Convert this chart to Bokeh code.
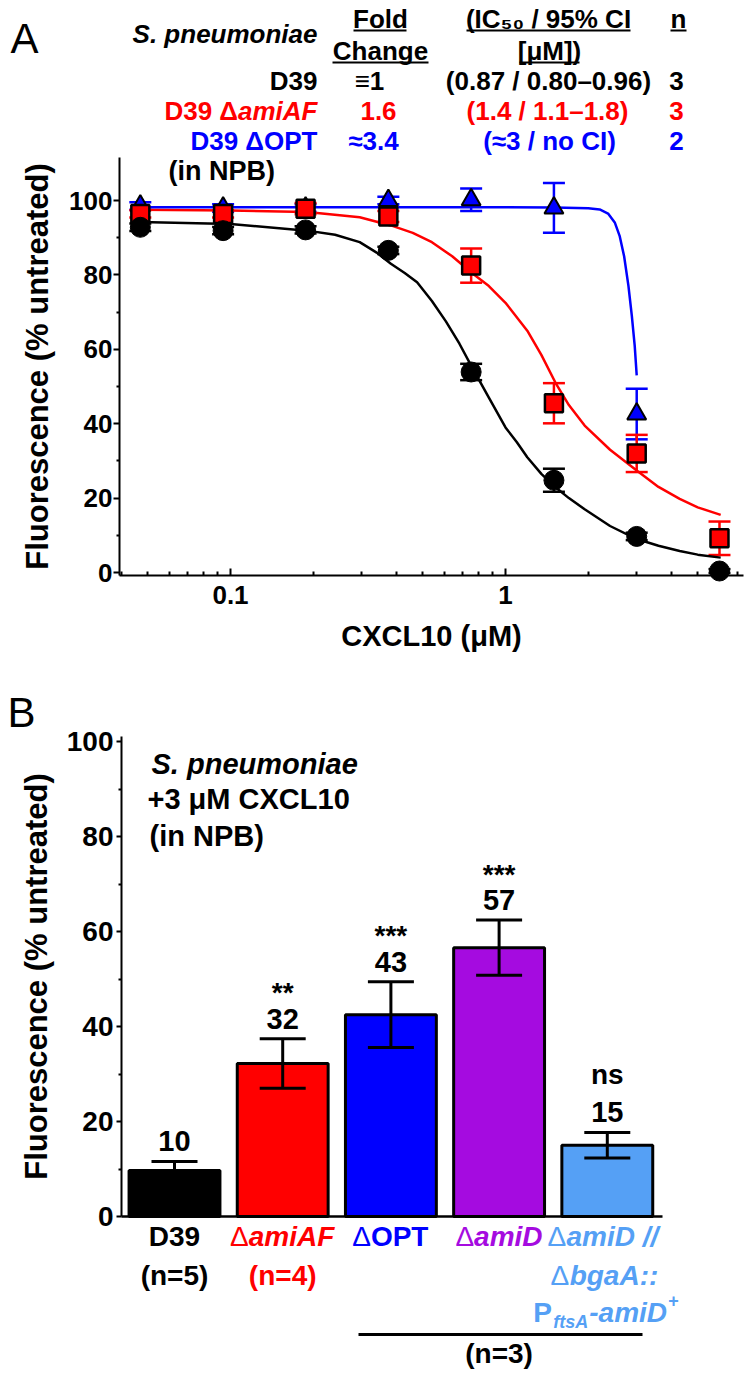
import numpy as np
from bokeh.plotting import figure
from bokeh.models import (ColumnDataSource, Whisker, TeeHead, Label, FixedTicker, Range1d)
from bokeh.layouts import column
from bokeh.embed import file_html
from bokeh.resources import INLINE
from bokeh.core.properties import value

FONT = "Liberation Sans"

# ---------------- Panel A data ----------------
conc = [0.047, 0.094, 0.1875, 0.375, 0.75, 1.5, 3.0, 6.0]
d39 = [92.8, 91.9, 92.1, 86.6, 53.9, 24.8, 9.7, 0.4]
d39_err = [1.0, 1.0, 1.0, 1.0, 2.2, 3.1, 1.0, 0.5]
amiaf = [96.4, 96.4, 97.8, 95.7, 82.5, 45.5, 32.0, 9.2]
amiaf_err = [1.0, 1.0, 1.5, 1.5, 4.6, 5.4, 5.0, 4.5]
opt_conc = [0.047, 0.094, 0.1875, 0.375, 0.75, 1.5, 3.0]
opt = [98.5, 98.0, 98.0, 100.0, 100.2, 98.0, 42.6]
opt_err = [1.0, 1.0, 1.0, 1.0, 3.0, 6.7, 6.8]

fit_d39_x = [0.047, 0.1, 0.19, 0.24, 0.295, 0.34, 0.383, 0.43, 0.477, 0.54, 0.607, 0.68,
             0.755, 0.87, 1.0, 1.1, 1.2, 1.35, 1.52, 1.7, 1.94, 2.4, 3.0, 3.6, 4.3, 5.0, 6.06]
fit_d39_y = [94.2, 93.7, 91.9, 90.8, 88.8, 86.0, 83.0, 80.5, 78.0, 73.0, 67.5, 61.5,
             55.2, 47.0, 39.0, 35.0, 31.0, 26.5, 22.9, 20.0, 17.0, 12.5, 9.0, 7.2, 5.8, 4.8, 4.0]
fit_amiaf_x = [0.047, 0.1, 0.19, 0.295, 0.383, 0.46, 0.54, 0.64, 0.755, 0.87, 1.0, 1.2,
               1.35, 1.52, 1.7, 1.94, 2.4, 3.0, 3.6, 4.3, 5.0, 6.06]
fit_amiaf_y = [97.5, 97.3, 96.9, 95.5, 93.3, 91.3, 88.8, 85.0, 80.5, 77.0, 72.5, 65.0,
               58.5, 51.0, 45.0, 39.5, 33.0, 27.4, 23.0, 19.8, 17.5, 15.5]
fit_opt_x = [0.047, 0.1, 0.5, 1.0, 1.5, 2.0, 2.2, 2.36, 2.5, 2.6, 2.7, 2.8, 2.88, 2.95, 3.0]
fit_opt_y = [98.2, 98.2, 98.2, 98.2, 98.1, 97.9, 97.6, 96.5, 94.0, 90.5, 85.0, 77.0, 69.0, 61.0, 53.0]

# ---------------- Panel B data ----------------
strains = ["D39", "amiAF", "OPT", "amiD", "amiD comp"]
bar_vals = [9.7, 32.2, 42.5, 56.6, 15.0]
bar_errs = [1.9, 5.2, 6.9, 5.8, 2.7]
bar_labels = ["10", "32", "43", "57", "15"]
bar_sig = ["", "**", "***", "***", "ns"]
bar_colors = ["#000000", "#FF0000", "#0000FF", "#A50BE0", "#55A0F5"]

RED, BLUE, PURP, LBLUE = "#FF0000", "#0000FF", "#A50BE0", "#55A0F5"

# ---------------- geometry (page px, page margin is 0) ----------------
W = 750
HA = 670
HB = 1373 - HA
PX_DEC = 275.0
LXA0 = -1 - 230 / PX_DEC
LXA1 = (W - 505) / PX_DEC
PX_UA = 3.72
YA0 = -(HA - 572) / PX_UA
YA1 = 572 / PX_UA
PX_UB = 4.75
PX_BAR = 108.2
XB0 = 1 - 174 / PX_BAR
XB1 = 1 + (W - 174) / PX_BAR
YB1 = (1216 - HA) / PX_UB
YB0 = -(1373 - 1216) / PX_UB


def ax(rx):
    return 10 ** (LXA0 + rx / PX_DEC)


def ay(ry):
    return (572 - ry) / PX_UA


def bx(rx):
    return 1 + (rx - 174) / PX_BAR


def by(ry):
    return (1216 - ry) / PX_UB


def style_fig(p):
    p.xgrid.visible = False
    p.ygrid.visible = False
    p.outline_line_color = None
    p.background_fill_color = "white"
    p.border_fill_color = "white"
    p.min_border_left = 0
    p.min_border_right = 0
    p.min_border_top = 0
    p.min_border_bottom = 0


def style_axis(a, size):
    a.axis_line_width = 2
    a.major_tick_line_width = 2
    a.minor_tick_line_width = 2
    a.axis_line_color = "black"
    a.major_tick_line_color = "black"
    a.minor_tick_line_color = "black"
    a.major_label_text_font = FONT
    a.major_label_text_font_size = f"{size}px"
    a.major_label_text_font_style = "bold"
    a.major_label_text_color = "black"
    a.axis_label_text_font = FONT
    a.axis_label_text_font_style = "bold"
    a.axis_label_text_color = "black"


pA = figure(width=W, height=HA, x_axis_type="log",
            x_range=Range1d(10 ** LXA0, 10 ** LXA1), y_range=Range1d(YA0, YA1),
            output_backend="svg", toolbar_location=None)
style_fig(pA)

ya = pA.yaxis[0]
style_axis(ya, 26)
ya.fixed_location = ax(119)
ya.ticker = FixedTicker(ticks=[0, 20, 40, 60, 80, 100], minor_ticks=[10, 30, 50, 70, 90])
ya.bounds = (ay(575), 111.5)
ya.major_tick_out = 6
ya.major_tick_in = 0
ya.minor_tick_out = 3
ya.minor_tick_in = 0
ya.major_label_standoff = 1
ya.axis_label = "Fluorescence (% untreated)"
ya.axis_label_text_font_size = "31px"
ya.axis_label_standoff = 11

xa = pA.xaxis[0]
style_axis(xa, 26)
xa.fixed_location = ay(575)
xa.bounds = (ax(119), ax(743))
xa.ticker = FixedTicker(ticks=[0.1, 1],
                        minor_ticks=[0.04, 0.05, 0.06, 0.07, 0.08, 0.09,
                                     0.2, 0.3, 0.4, 0.5, 0.6, 0.7, 0.8, 0.9,
                                     2, 3, 4, 5, 6, 7])
xa.major_label_overrides = {0.1: "0.1", 1: "1"}
xa.major_tick_in = 7
xa.major_tick_out = 0
xa.minor_tick_in = 4
xa.minor_tick_out = 0
xa.major_label_standoff = 10
xa.axis_label = "CXCL10 (μM)"
xa.axis_label_text_font_size = "29px"
xa.axis_label_standoff = 13

# fitted curves
pA.line(fit_d39_x, fit_d39_y, line_color="black", line_width=2.5)
pA.line(fit_amiaf_x, fit_amiaf_y, line_color=RED, line_width=2.5)
pA.line(fit_opt_x, fit_opt_y, line_color=BLUE, line_width=2.5)


def add_err(p, xs, ys, es, color, size, lw, level):
    src = ColumnDataSource(dict(x=xs, up=[y + e for y, e in zip(ys, es)],
                                lo=[y - e for y, e in zip(ys, es)]))
    w = Whisker(base="x", upper="up", lower="lo", source=src, line_color=color,
                line_width=lw, level=level,
                upper_head=TeeHead(size=size, line_color=color, line_width=lw),
                lower_head=TeeHead(size=size, line_color=color, line_width=lw))
    p.add_layout(w)


add_err(pA, opt_conc, opt, opt_err, BLUE, 22, 2.5, "underlay")
add_err(pA, conc, amiaf, amiaf_err, RED, 22, 2.5, "underlay")
add_err(pA, conc, d39, d39_err, "black", 22, 2.5, "underlay")

pA.scatter(opt_conc, opt, marker="triangle", size=19, fill_color=BLUE,
           line_color="black", line_width=2)
pA.scatter(conc, amiaf, marker="square", size=18, fill_color=RED,
           line_color="black", line_width=2.5)
pA.scatter(conc, d39, marker="circle", size=20, fill_color="black", line_color="black")


def lab(p, text, x, sy, size, color="black", style="bold", align="left",
        baseline="middle", xunits="screen", xoff=0):
    p.add_layout(Label(x=x, y=sy, x_units=xunits, y_units="screen", text=text,
                       text_font=FONT, text_font_size=f"{size}px", text_font_style=style,
                       text_color=color, text_align=align, text_baseline=baseline,
                       x_offset=xoff))


def labA(text, rx, ry, size=26, **kw):
    lab(pA, text, rx, HA - ry, size, **kw)


labA("A", 10, 38, size=42, style="normal")
labA("S. pneumoniae", 317, 33, style="bold italic", align="right")
labA("Fold", 380, 18, align="center")
labA("Change", 380, 50, align="center")
labA("(IC₅₀ / 95% CI", 548, 18, align="center")
labA("[μM])", 549, 50, align="center")
labA("n", 678, 18, align="center")

labA("D39", 317, 80, align="right")
labA("≡1", 369, 80, align="center")
labA("(0.87 / 0.80–0.96)", 548, 80, align="center")
labA("3", 676, 80, align="center")

labA("amiAF", 317, 110, align="right", color=RED, style="bold italic")
labA("D39 Δ", 237.5, 110, align="right", color=RED)
labA("1.6", 378, 110, align="center", color=RED)
labA("(1.4 / 1.1–1.8)", 547, 110, align="center", color=RED)
labA("3", 676, 110, align="center", color=RED)

labA("D39 ΔOPT", 317, 140, align="right", color=BLUE)
labA("≈3.4", 373, 140, align="center", color=BLUE)
labA("(≈3 / no CI)", 549, 140, align="center", color=BLUE)
labA("2", 676, 140, align="center", color=BLUE)

labA("(in NPB)", 168, 170, size=27)

# header underlines
ul_x0 = [ax(353), ax(466), ax(670), ax(332), ax(519)]
ul_x1 = [ax(406), ax(630), ax(686), ax(428), ax(579)]
ul_y = [ay(30), ay(30), ay(30), ay(62), ay(62)]
pA.segment(x0=ul_x0, y0=ul_y, x1=ul_x1, y1=ul_y, line_color="black", line_width=2)

# ---------------- Panel B ----------------
pB = figure(width=W, height=HB, x_range=Range1d(XB0, XB1), y_range=Range1d(YB0, YB1),
            output_backend="svg", toolbar_location=None)
style_fig(pB)

yb = pB.yaxis[0]
style_axis(yb, 28)
yb.fixed_location = bx(121)
yb.ticker = FixedTicker(ticks=[0, 20, 40, 60, 80, 100], minor_ticks=[10, 30, 50, 70, 90])
yb.bounds = (0, 101)
yb.major_tick_out = 5
yb.major_tick_in = 0
yb.minor_tick_out = 3
yb.minor_tick_in = 0
yb.major_label_standoff = 3
yb.axis_label = "Fluorescence (% untreated)"
yb.axis_label_text_font_size = "31px"
yb.axis_label_standoff = 10

xb = pB.xaxis[0]
style_axis(xb, 10)
xb.fixed_location = 0
xb.bounds = (bx(121), bx(662))
xb.axis_line_width = 2.5
xb.ticker = FixedTicker(ticks=[])
xb.major_tick_line_color = None
xb.minor_tick_line_color = None

xpos = [1, 2, 3, 4, 5]
srcB = ColumnDataSource(dict(x=xpos, top=bar_vals, color=bar_colors,
                             up=[v + e for v, e in zip(bar_vals, bar_errs)],
                             lo=[v - e for v, e in zip(bar_vals, bar_errs)],
                             lab=bar_labels, sig=bar_sig))
pB.vbar(x="x", top="top", width=0.84, source=srcB, fill_color="color",
        line_color="black", line_width=3)
pB.add_layout(Whisker(base="x", upper="up", lower="lo", source=srcB, line_color="black",
                      line_width=3, level="annotation",
                      upper_head=TeeHead(size=46, line_color="black", line_width=3),
                      lower_head=TeeHead(size=46, line_color="black", line_width=3)))
pB.text(x="x", y="up", text="lab", source=srcB, text_align="center",
        text_baseline="alphabetic", y_offset=-20, text_font=value(FONT),
        text_font_size="29px", text_font_style="bold", text_color="black")
sig_src = ColumnDataSource(dict(x=xpos[:4], up=[v + e for v, e in zip(bar_vals[:4], bar_errs[:4])],
                                sig=bar_sig[:4]))
pB.text(x="x", y="up", text="sig", source=sig_src, text_align="center",
        text_baseline="alphabetic", y_offset=-46, text_font=value(FONT),
        text_font_size="28px", text_font_style="bold", text_color="black")
ns_src = ColumnDataSource(dict(x=xpos[4:], up=[bar_vals[4] + bar_errs[4]], sig=bar_sig[4:]))
pB.text(x="x", y="up", text="sig", source=ns_src, text_align="center",
        text_baseline="alphabetic", y_offset=-58, text_font=value(FONT),
        text_font_size="28px", text_font_style="bold", text_color="black")


def labB(text, rx, ry, size=28, **kw):
    lab(pB, text, rx, 1373 - ry, size, **kw)


def labBx(text, xcat, ry, xoff, size=28, **kw):
    lab(pB, text, xcat, 1373 - ry, size, xunits="data", xoff=xoff, **kw)


labB("B", 7, 712, size=42, style="normal")
labB("S. pneumoniae", 151, 763, size=29, style="bold italic")
labB("+3 μM CXCL10", 147, 798, size=29)
labB("(in NPB)", 149, 835, size=29)

# category labels, row 1
labBx("D39", 1, 1236, 0, align="center")
labBx("Δ", 2, 1236, -34, align="right", color=RED, style="normal")
labBx("amiAF", 2, 1236, -34, align="left", color=RED, style="bold italic")
labBx("Δ", 3, 1236, -20, align="right", color=BLUE, style="normal")
labBx("OPT", 3, 1236, -20, align="left", color=BLUE)
labBx("Δ", 4, 1236, -25, align="right", color=PURP, style="normal")
labBx("amiD", 4, 1236, -25, align="left", color=PURP, style="bold italic")
labBx("Δ", 5, 1236, -41, align="right", color=LBLUE, style="normal")
labBx("amiD //", 5, 1236, 51, align="right", color=LBLUE, style="bold italic")
# row 2
labBx("(n=5)", 1, 1275, 0, align="center")
labBx("(n=4)", 2, 1275, 0, align="center", color=RED)
labBx("Δ", 5, 1275, -38, align="right", color=LBLUE, style="normal")
labBx("bgaA::", 5, 1275, 51, align="right", color=LBLUE, style="bold italic")
# row 3
labBx("P", 5, 1312, -74, align="left", color=LBLUE, style="bold")
labBx("ftsA", 5, 1321, -54, size=18, align="left", color=LBLUE, style="bold italic")
labBx("-amiD", 5, 1312, -18, align="left", color=LBLUE, style="bold italic")
labBx("+", 5, 1300, 61, size=18, align="left", color=LBLUE)
labBx("(n=3)", 4, 1353, 0, align="center")

# bracket line above (n=3)
pB.segment(x0=[bx(358)], y0=[by(1334)], x1=[bx(642)], y1=[by(1334)],
           line_color="black", line_width=3)

layout = column(pA, pB, spacing=0)
open("out.html", "w").write(file_html(layout, INLINE))
